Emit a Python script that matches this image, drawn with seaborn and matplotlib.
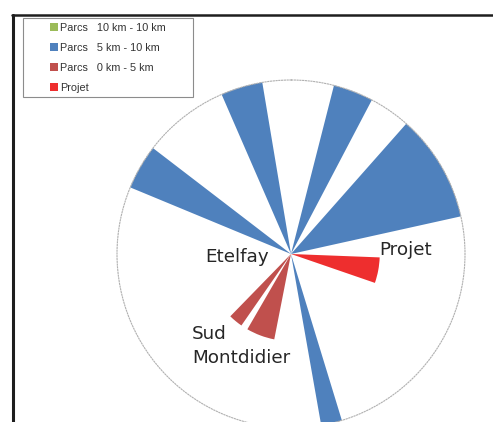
import numpy as np
import matplotlib
matplotlib.use("Agg")
import matplotlib.pyplot as plt
from matplotlib.lines import Line2D
import seaborn as sns

# wedge directions (degrees, clockwise from north), widths (degrees) and lengths
parcs_5_10_dir = [300.0, 343.5, 21.0, 59.5, 166.5]
parcs_5_10_width = [15.0, 14.0, 13.4, 36.0, 7.0]
parcs_5_10_len = [10, 10, 10, 10, 10]

parcs_0_5_dir = [200.6, 219.5]
parcs_0_5_width = [19.0, 9.5]
parcs_0_5_len = [5, 5]

projet_dir = [100.6]
projet_width = [16.8]
projet_len = [5.1]

legend_labels = ["Parcs   10 km - 10 km", "Parcs   5 km - 10 km",
                 "Parcs   0 km - 5 km", "Projet"]
legend_colors = ["#9BBB59", "#4F81BD", "#C0504D", "#EE2E2E"]

sns.set_style("white")
plt.rcParams['font.family'] = ['DejaVu Sans']

W, H = 493, 422
fig = plt.figure(figsize=(W / 100, H / 100), dpi=100)

# polar axes: centre at (291, 254) px, radius 174 px
cx, cy, rad = 291, 254, 174
ax = fig.add_axes([(cx - rad) / W, (H - cy - rad) / H, 2 * rad / W, 2 * rad / H],
                  projection='polar')
ax.set_theta_zero_location('N')
ax.set_theta_direction(-1)
ax.set_rlim(0, 10)
ax.grid(False)
ax.set_xticks([])
ax.set_yticks([])
ax.spines['polar'].set_linestyle((0, (1, 1.5)))
ax.spines['polar'].set_color('#b0b0b0')
ax.spines['polar'].set_linewidth(0.8)
ax.set_facecolor('white')

ax.bar(np.deg2rad(parcs_5_10_dir), parcs_5_10_len, width=np.deg2rad(parcs_5_10_width),
       color=legend_colors[1], linewidth=0, clip_on=False)
ax.bar(np.deg2rad(parcs_0_5_dir), parcs_0_5_len, width=np.deg2rad(parcs_0_5_width),
       color=legend_colors[2], linewidth=0)
ax.bar(np.deg2rad(projet_dir), projet_len, width=np.deg2rad(projet_width),
       color=legend_colors[3], linewidth=0)

# place names
fig.text(205 / W, 1 - 257 / H, "Etelfay", fontsize=13.2, color='#262626', ha='left', va='center')
fig.text(379 / W, 1 - 250 / H, "Projet", fontsize=13.2, color='#262626', ha='left', va='center')
fig.text(192 / W, 1 - 325 / H, "Sud\nMontdidier", fontsize=13.2, color='#262626',
         ha='left', va='top', linespacing=1.42)

# legend
handles = [Line2D([], [], linestyle='none', marker='s', markersize=5.5,
                  markerfacecolor=c, markeredgewidth=0) for c in legend_colors]
leg = fig.legend(handles, legend_labels, loc='upper left',
                 bbox_to_anchor=(23 / W, 1 - 95 / H, 170 / W, 77 / H),
                 bbox_transform=fig.transFigure, mode='expand', borderaxespad=0,
                 prop={'family': 'Liberation Sans', 'size': 7.8},
                 handlelength=4.9, handletextpad=-1.9, labelspacing=0.93,
                 borderpad=0.42, fancybox=False, framealpha=1)
leg.get_frame().set_edgecolor('#8c8c8c')
leg.get_frame().set_linewidth(0.8)
for t in leg.get_texts():
    t.set_color('#333333')

# outer frame lines (top and left)
fig.add_artist(Line2D([12 / W, 1], [1 - 15 / H, 1 - 15 / H], color='#1e1e1e', linewidth=1.8,
                      transform=fig.transFigure))
fig.add_artist(Line2D([13 / W, 13 / W], [0, 1 - 15 / H], color='#1e1e1e', linewidth=2.2,
                      transform=fig.transFigure))

fig.savefig("out.png", dpi=100)
